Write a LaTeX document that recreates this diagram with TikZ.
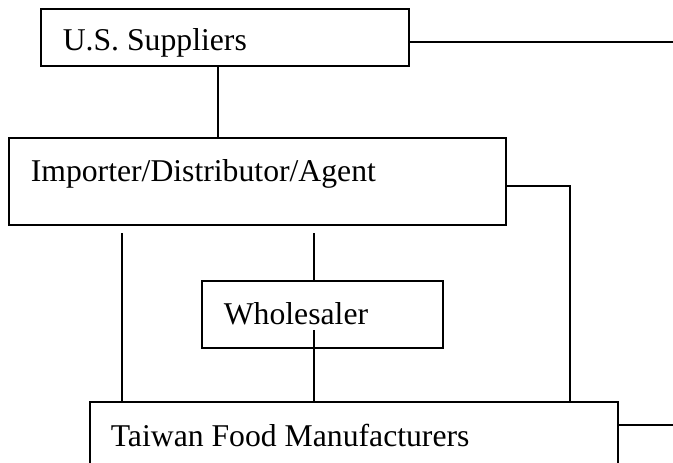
\documentclass[tikz,border=0pt]{standalone}
\usepackage{fontspec}
\setmainfont{Liberation Serif}
\begin{document}
\begin{tikzpicture}[
x=1pt,y=-1pt,
line width=1.6pt,
box/.style={%
draw,
line width=1.6pt,
inner sep=0pt,
},
lbl/.style={%
font=\fontsize{31.7}{38}\selectfont,
anchor=base west,
inner sep=0pt,
}
]

\clip(0,0)rectangle(673,463);

%boxes
\node[box,minimum width=368pt,minimum height=57pt](us)at(225,37.5){};
\node[lbl](usl)at(62,50){U.S. Suppliers};

\node[box,minimum width=497pt,minimum height=87pt](imp)at(257.5,181.5){};
\node[lbl](impl)at(30,181){Importer/Distributor/Agent};

\node[box,minimum width=241pt,minimum height=67pt](wh)at(322.5,314.5){};
\node[lbl](whl)at(223,324){Wholesaler};

\node[box,minimum width=528pt,minimum height=98pt](tw)at(354,451){};
\node[lbl](twl)at(110,446){Taiwan Food Manufacturers};

%free ends
\coordinate(ur)at(673,42);
\coordinate(ir)at(570,186);
\coordinate(tr)at(673,425);
\coordinate(a1)at(122,233);
\coordinate(a2)at(314,233);
\coordinate(w1)at(314,330);

%links
\draw(ur-|us.east)--(ur);
\draw([xshift=-7pt]us.south)--([xshift=-7pt]us.south|-imp.north);
\draw(ir-|imp.east)--(ir)--(ir|-tw.north);
\draw(a1)--(a1|-tw.north);
\draw(a2)--(a2|-wh.north);
\draw(w1)--(w1|-tw.north);
\draw(tr-|tw.east)--(tr);

\end{tikzpicture}
\end{document}
